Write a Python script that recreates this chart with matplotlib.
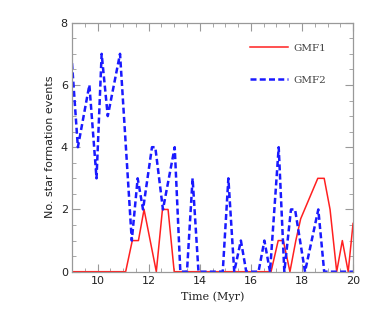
import matplotlib
matplotlib.use("Agg")
import matplotlib.pyplot as plt
from matplotlib.ticker import MultipleLocator

# GMF1 (red, solid)
t_gmf1 = [9.0, 11.1, 11.36, 11.6, 11.82, 12.3, 12.54, 12.76, 13.0, 16.79,
          17.07, 17.27, 17.53, 17.76, 17.95, 18.62, 18.87, 19.1, 19.36,
          19.58, 19.81, 20.0]
n_gmf1 = [0, 0, 1, 1, 2, 0, 2, 2, 0, 0,
          1, 1, 0, 1, 1.7, 3, 3, 2, 0,
          1, 0, 1.55]

# GMF2 (blue, dashed)
t_gmf2 = [9.0, 9.23, 9.68, 9.96, 10.16, 10.4, 10.88, 11.34, 11.57, 11.78,
          12.13, 12.26, 12.56, 13.02, 13.24, 13.5, 13.72, 13.95, 14.9,
          15.12, 15.35, 15.61, 15.82, 16.3, 16.53, 16.75, 17.09, 17.31,
          17.57, 17.73, 18.12, 18.64, 18.87, 20.0]
n_gmf2 = [6.7, 4, 6, 3, 7, 5, 7, 1, 3, 2,
          4, 4, 2, 4, 0, 0, 3, 0, 0,
          3, 0, 1, 0, 0, 1, 0, 4, 0,
          2, 2, 0, 2, 0, 0]

fig = plt.figure(figsize=(3.74, 3.18), dpi=100)
ax = fig.add_axes([0.1925, 0.1456, 0.7515, 0.783])

ax.plot(t_gmf1, n_gmf1, color="#ff2020", lw=1.1, label="GMF1")
ax.plot(t_gmf2, n_gmf2, color="#1a1aff", lw=1.8, ls=(0, (2.4, 1.3)), label="GMF2")

ax.set_xlim(9, 20)
ax.set_ylim(0, 8)
ax.xaxis.set_major_locator(MultipleLocator(2))
ax.xaxis.set_minor_locator(MultipleLocator(0.5))
ax.yaxis.set_major_locator(MultipleLocator(2))
ax.yaxis.set_minor_locator(MultipleLocator(0.5))

axcol = "#999999"
for s in ax.spines.values():
    s.set_color(axcol)
    s.set_linewidth(0.9)
ax.tick_params(which="both", direction="in", top=True, right=True,
               color=axcol, labelsize=8, labelcolor="#222222", pad=3)
ax.tick_params(which="major", length=6)
ax.tick_params(which="minor", length=3)

ax.set_xlabel("Time (Myr)", fontsize=8, family="DejaVu Serif", color="#222222")
ax.set_ylabel("No. star formation events", fontsize=8, color="#222222")

leg = ax.legend(loc="upper right", frameon=False,
                prop={"family": "DejaVu Serif", "size": 7.5},
                handlelength=3.6, labelspacing=2.15, borderaxespad=1.6,
                handletextpad=0.6, bbox_to_anchor=(0.98, 1.0))
for txt in leg.get_texts():
    txt.set_color("#444444")

fig.savefig("out.png", dpi=100)
